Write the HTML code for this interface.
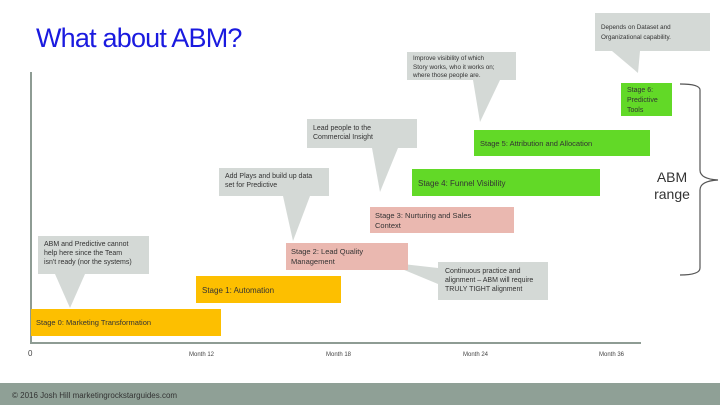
<!DOCTYPE html>
<html><head><style>
html,body{margin:0;padding:0;background:#fff;}
svg{display:block;font-family:"Liberation Sans",Arial,sans-serif;}
</style></head><body>
<svg width="720" height="405" viewBox="0 0 720 405" xmlns="http://www.w3.org/2000/svg">
<text x="36" y="47" font-size="27" fill="#1a1adf" letter-spacing="-0.8">What about ABM?</text>
<!-- axes -->
<line x1="31" y1="72" x2="31" y2="343" stroke="#8e9c94" stroke-width="2"/>
<line x1="30" y1="343" x2="641" y2="343" stroke="#8e9c94" stroke-width="2"/>
<g font-size="6" fill="#444">
<text x="28" y="356" font-size="8">0</text>
<text x="189" y="356">Month 12</text>
<text x="326" y="356">Month 18</text>
<text x="463" y="356">Month 24</text>
<text x="599" y="356">Month 36</text>
</g>
<!-- callouts -->
<g fill="#d4d9d6">
<rect x="38" y="236" width="111" height="38"/><polygon points="55,274 85,274 70,308"/>
<rect x="219" y="168" width="110" height="28"/><polygon points="283,196 310,196 293,241"/>
<rect x="307" y="119" width="110" height="29"/><polygon points="372,148 398,148 380,192"/>
<rect x="407" y="52" width="109" height="28"/><polygon points="473,80 500,80 480,122"/>
<rect x="595" y="13" width="115" height="38"/><polygon points="612,51 640,51 638,73"/>
<rect x="438" y="262" width="110" height="38"/><polygon points="385,262 438,268 438,284"/>
</g>
<!-- stages -->
<rect x="31" y="309" width="190" height="27" fill="#fdbf00"/>
<rect x="196" y="276" width="145" height="27" fill="#fdbf00"/>
<rect x="286" y="243" width="122" height="27" fill="#eab8b0"/>
<rect x="370" y="207" width="144" height="26" fill="#eab8b0"/>
<rect x="412" y="169" width="188" height="27" fill="#62d927"/>
<rect x="474" y="130" width="176" height="26" fill="#62d927"/>
<rect x="621" y="83" width="51" height="33" fill="#62d927"/>
<g font-size="7" fill="#333">
<text x="44" y="246">ABM and Predictive cannot</text>
<text x="44" y="255">help here since the Team</text>
<text x="44" y="264">isn't ready (nor the systems)</text>
<text x="225" y="178">Add Plays and build up data</text>
<text x="225" y="187">set for Predictive</text>
<text x="313" y="130">Lead people to the</text>
<text x="313" y="139">Commercial Insight</text>
<text x="445" y="273">Continuous practice and</text>
<text x="445" y="282">alignment – ABM will require</text>
<text x="445" y="291">TRULY TIGHT alignment</text>
</g>
<g font-size="6.3" fill="#333">
<text x="413" y="60">Improve visibility of which</text>
<text x="413" y="69">Story works, who it works on;</text>
<text x="413" y="77">where those people are.</text>
<text x="601" y="29">Depends on Dataset and</text>
<text x="601" y="39">Organizational capability.</text>
</g>
<g font-size="7.5" fill="#333">
<text x="36" y="325">Stage 0: Marketing Transformation</text>
<text x="202" y="293" font-size="8">Stage 1: Automation</text>
<text x="291" y="254">Stage 2: Lead Quality</text>
<text x="291" y="264">Management</text>
<text x="375" y="218">Stage 3: Nurturing and Sales</text>
<text x="375" y="228">Context</text>
<text x="418" y="186" font-size="8">Stage 4: Funnel Visibility</text>
<text x="480" y="146">Stage 5: Attribution and Allocation</text>
<text x="627" y="92" font-size="7">Stage 6:</text>
<text x="627" y="102" font-size="7">Predictive</text>
<text x="627" y="112" font-size="7">Tools</text>
</g>
<!-- brace -->
<path d="M680,84 Q700,84 700,90 L700,170 Q700,179 718,180 Q700,181 700,190 L700,268 Q700,275 680,275" fill="none" stroke="#555" stroke-width="1.2"/>
<text x="672" y="182" font-size="14" fill="#333" text-anchor="middle">ABM</text>
<text x="672" y="199" font-size="14" fill="#333" text-anchor="middle">range</text>
<!-- footer -->
<rect x="0" y="383" width="720" height="22" fill="#8fa096"/>
<text x="12" y="398" font-size="8" fill="#333">© 2016 Josh Hill marketingrockstarguides.com</text>
</svg>
</body></html>
